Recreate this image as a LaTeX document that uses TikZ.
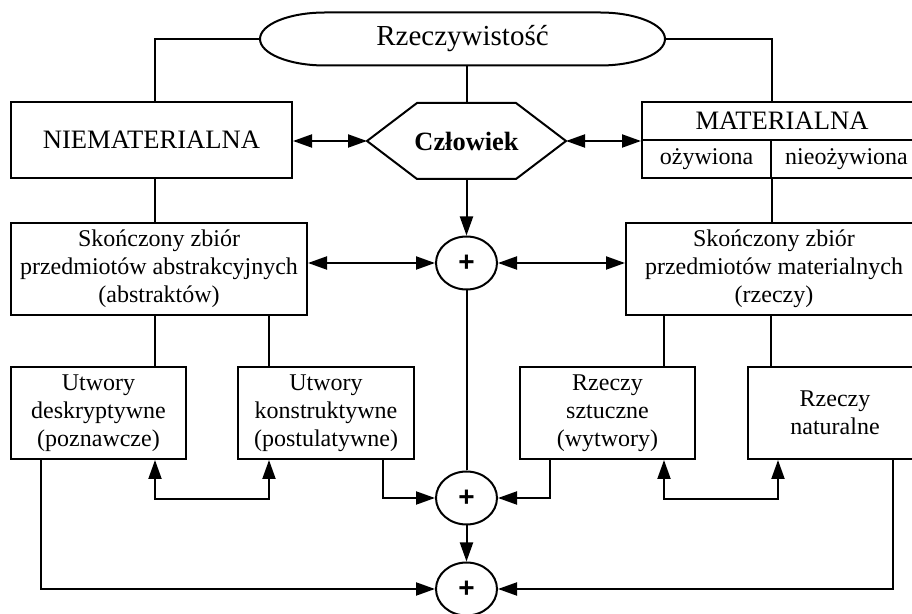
\documentclass[tikz,border=0pt]{standalone}
\usepackage{fontspec}
\setmainfont{Liberation Serif}
\newfontfamily\plusfont{Liberation Sans}
\usepackage{tikz}
\usetikzlibrary{arrows.meta}
\usetikzlibrary{shapes.geometric}

\begin{document}
\begin{tikzpicture}[
  x=0.5pt, y=-0.5pt,
  line width=1pt,
  box/.style={draw=black, rectangle, inner sep=0pt, align=center, font=\fontsize{12}{14}\selectfont},
  plain/.style={draw=none, rectangle, inner sep=0pt, outer sep=0pt, align=center},
  sum/.style={draw=black, ellipse, inner sep=0pt, minimum width=30.5pt, minimum height=26.5pt, font=\plusfont\bfseries\fontsize{14}{14}\selectfont},
  link/.style={draw=black},
  oneway/.style={draw=black, -{Triangle[length=9.5pt, width=6.5pt]}},
  twoway/.style={draw=black, {Triangle[length=9.5pt, width=6.5pt]}-{Triangle[length=9.5pt, width=6.5pt]}}
]

\useasboundingbox (0,0) rectangle (912,614);

%% TOP ROW
% Reality (terminator shape)
\node[plain, minimum width=202.5pt, minimum height=26.5pt, font=\fontsize{14.5}{16}\selectfont] (real) at (462.5,39) {Rzeczywistość};
\draw[link] ([xshift=32.5pt]real.north west) -- ([xshift=-32.5pt]real.north east)
  arc[start angle=90, end angle=-90, x radius=32.5pt, y radius=13.25pt]
  -- ([xshift=32.5pt]real.south west)
  arc[start angle=270, end angle=90, x radius=32.5pt, y radius=13.25pt] -- cycle;

% Immaterial / human / material
\node[box, minimum width=140.5pt, minimum height=38pt, font=\fontsize{13.3}{15}\selectfont] (niemat) at (151.5,140) {NIEMATERIALNA};

\node[plain, minimum width=99.5pt, minimum height=38pt, font=\bfseries\fontsize{13.2}{15}\selectfont] (czlowiek) at (466.5,141) {Człowiek};
\draw[link] (czlowiek.west) -- ([xshift=25pt]czlowiek.north west) -- ([xshift=-25pt]czlowiek.north east)
  -- (czlowiek.east) -- ([xshift=-25pt]czlowiek.south east) -- ([xshift=25pt]czlowiek.south west) -- cycle;

\node[box, minimum width=140pt, minimum height=19pt, font=\fontsize{13.3}{15}\selectfont] (mat_top) at (782,121) {MATERIALNA};
\node[box, minimum width=64.5pt, minimum height=19pt] (mat_ozyw) at (706.5,159) {ożywiona};
\node[box, minimum width=75.5pt, minimum height=19pt] (mat_nieozyw) at (846.5,159) {nieożywiona};

\draw[link] (real.west) -| ([xshift=1.75pt]niemat.north);
\draw[link] (real.east) -| (mat_top.north -| mat_ozyw.east);
\draw[link] (real.south -| czlowiek.north) -- (czlowiek.north);

\draw[twoway] (czlowiek.west -| niemat.east) -- (czlowiek.west);
\draw[twoway] (czlowiek.east) -- (czlowiek.east -| mat_top.west);

%% FINITE SETS
\node[box, minimum width=148pt, minimum height=46pt] (zb_abs) at (159,269) {Skończony zbiór\\przedmiotów abstrakcyjnych\\(abstraktów)};
\node[sum] (sum_1) at (466.5,263) {+};
\node[box, minimum width=148pt, minimum height=46pt] (zb_mat) at (774,269) {Skończony zbiór\\przedmiotów materialnych\\(rzeczy)};

\draw[link] ([xshift=1.75pt]niemat.south) -- ([xshift=-2pt]zb_abs.north);
\draw[link] (mat_ozyw.south east) -- (mat_ozyw.south east |- zb_mat.north);
\draw[oneway] (czlowiek.south) -- (sum_1.north);
\draw[twoway] (sum_1.west -| zb_abs.east) -- (sum_1.west);
\draw[twoway] (sum_1.east) -- (sum_1.east -| zb_mat.west);

%% WORKS AND THINGS
\node[box, minimum width=87.5pt, minimum height=46pt] (utw_desk) at (98.5,413) {Utwory\\deskryptywne\\(poznawcze)};
\node[box, minimum width=88pt, minimum height=46pt] (utw_konst) at (326,413) {Utwory\\konstruktywne\\(postulatywne)};
\node[box, minimum width=87.5pt, minimum height=46pt] (rz_sztuczne) at (607.5,413) {Rzeczy\\sztuczne\\(wytwory)};
\node[box, minimum width=87pt, minimum height=46pt] (rz_naturalne) at (835,413) {Rzeczy\\naturalne};

\draw[link] ([xshift=-2pt]zb_abs.south) -- ([xshift=28.25pt]utw_desk.north);
\draw[link] ([xshift=55pt]zb_abs.south) -- ([xshift=-28.5pt]utw_konst.north);
\draw[link] ([xshift=-55pt]zb_mat.south) -- ([xshift=28.25pt]rz_sztuczne.north);
\draw[link] ([xshift=-1.5pt]zb_mat.south) -- ([xshift=-32pt]rz_naturalne.north);

%% SUMS
\node[sum] (sum_2) at (466.5,498) {+};
\node[sum] (sum_3) at (466.5,589) {+};

\draw[twoway] ([xshift=28.25pt]utw_desk.south) -- ++(0,-19.5pt) -| ([xshift=-28.5pt]utw_konst.south);
\draw[twoway] ([xshift=28.25pt]rz_sztuczne.south) -- ++(0,-19.5pt) -| ([xshift=-28.5pt]rz_naturalne.south);

\draw[oneway] ([xshift=28.5pt]utw_konst.south) |- (sum_2.west);
\draw[oneway] ([xshift=-28.75pt]rz_sztuczne.south) |- (sum_2.east);
\draw[link] (sum_1.south) -- (sum_2.north);
\draw[oneway] (sum_2.south) -- (sum_3.north);

\draw[oneway] ([xshift=-28.75pt]utw_desk.south) |- (sum_3.west);
\draw[oneway] ([xshift=29pt]rz_naturalne.south) |- (sum_3.east);

\end{tikzpicture}
\end{document}
